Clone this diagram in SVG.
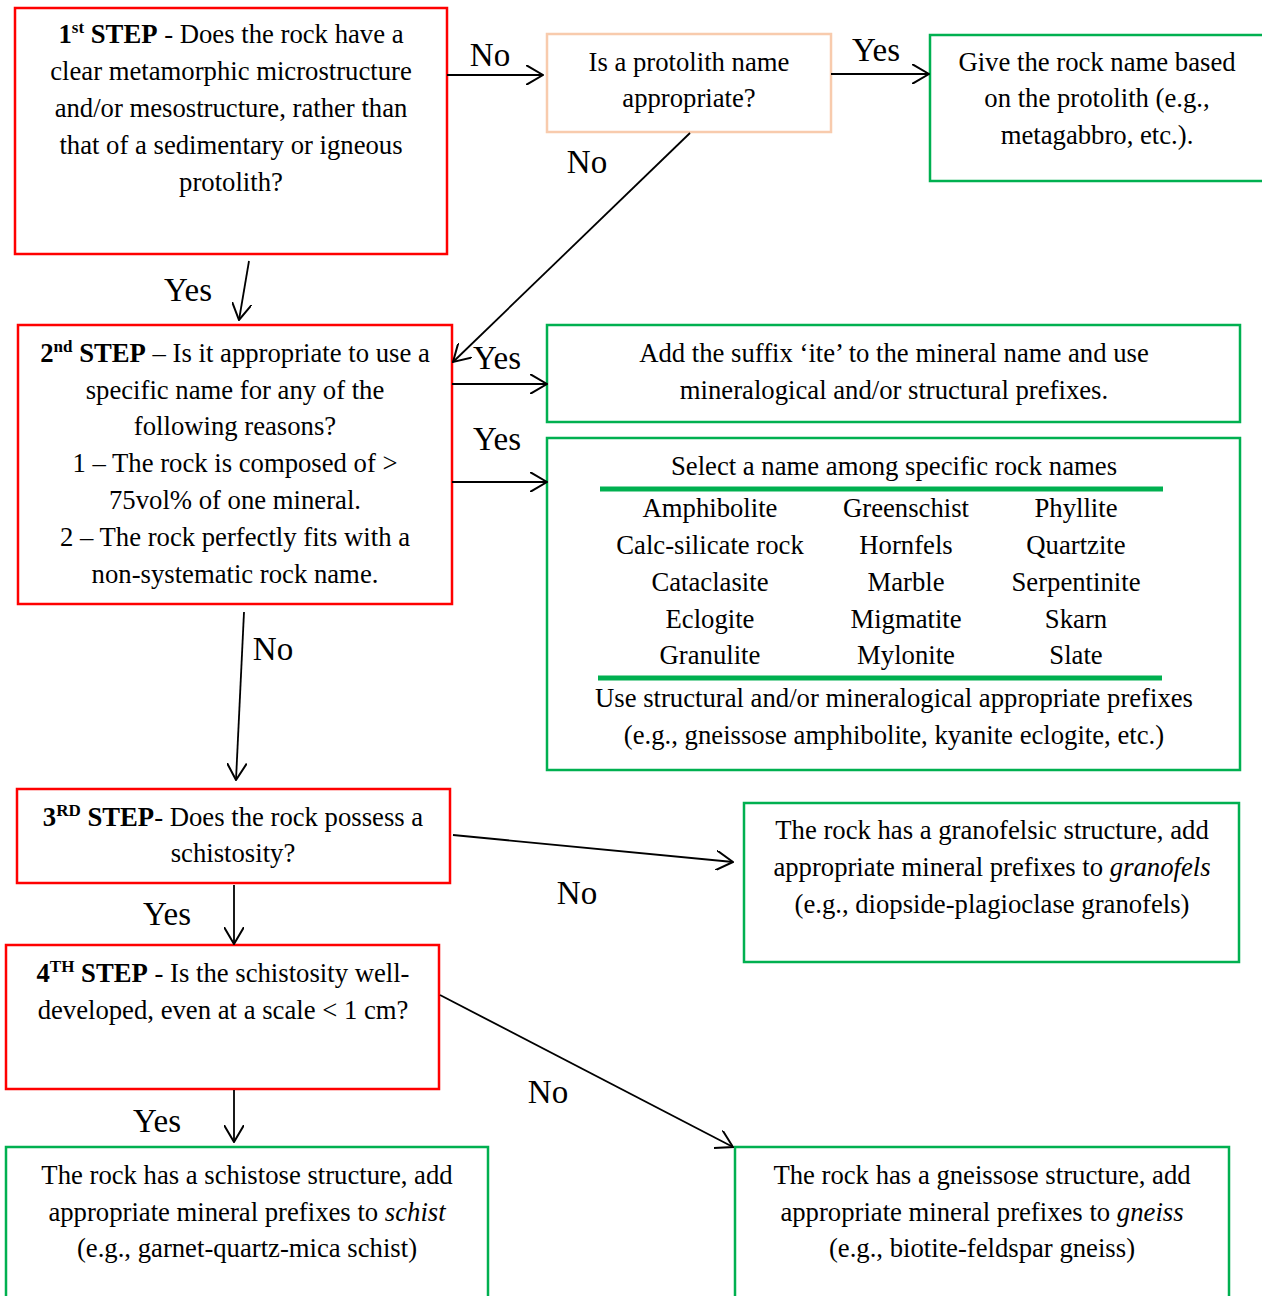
<svg xmlns="http://www.w3.org/2000/svg" width="1262" height="1296" viewBox="0 0 1262 1296">
<defs>
<marker id="ah" viewBox="0 0 18 20" refX="17" refY="10" markerWidth="18" markerHeight="20" markerUnits="userSpaceOnUse" orient="auto">
<path d="M0,0 L17,10 L0,20" fill="none" stroke="#000" stroke-width="2"/>
</marker>
</defs>
<style>
text{font-family:"Liberation Serif","Times New Roman",serif;fill:#000}
.t{font-size:26.7px;text-anchor:middle}
.l{font-size:33px;text-anchor:middle}
.b{font-weight:bold}
.i{font-style:italic}
.sup{font-size:17px;font-weight:bold}
.red{fill:#fff;stroke:#FF0000;stroke-width:2.5}
.grn{fill:#fff;stroke:#00B050;stroke-width:2.5}
.org{fill:#fff;stroke:#F8CBAD;stroke-width:2.5}
.conn line{stroke:#000;stroke-width:1.8;marker-end:url(#ah)}
</style>
<rect width="1262" height="1296" fill="#fff"/>

<g id="step1">
<rect class="red" x="15" y="8" width="432" height="246"/>
<text class="t" x="231" y="43"><tspan class="b">1</tspan><tspan class="sup" dy="-10">st</tspan><tspan class="b" dy="10"> STEP</tspan> - Does the rock have a</text>
<text class="t" x="231" y="80">clear metamorphic microstructure</text>
<text class="t" x="231" y="117">and/or mesostructure, rather than</text>
<text class="t" x="231" y="154">that of a sedimentary or igneous</text>
<text class="t" x="231" y="191">protolith?</text>
</g>

<g id="protolith">
<rect class="org" x="547" y="34" width="284" height="98"/>
<text class="t" x="689" y="71">Is a protolith name</text>
<text class="t" x="689" y="107">appropriate?</text>
</g>

<g id="protolith-name">
<rect class="grn" x="930" y="35" width="340" height="146"/>
<text class="t" x="1097" y="71">Give the rock name based</text>
<text class="t" x="1097" y="107">on the protolith (e.g.,</text>
<text class="t" x="1097" y="144">metagabbro, etc.).</text>
</g>

<g id="step2">
<rect class="red" x="18" y="325" width="434" height="279"/>
<text class="t" x="235" y="362"><tspan class="b">2</tspan><tspan class="sup" dy="-10">nd</tspan><tspan class="b" dy="10"> STEP</tspan> – Is it appropriate to use a</text>
<text class="t" x="235" y="399">specific name for any of the</text>
<text class="t" x="235" y="435">following reasons?</text>
<text class="t" x="235" y="472">1 – The rock is composed of &gt;</text>
<text class="t" x="235" y="509">75vol% of one mineral.</text>
<text class="t" x="235" y="546">2 – The rock perfectly fits with a</text>
<text class="t" x="235" y="583">non-systematic rock name.</text>
</g>

<g id="suffix">
<rect class="grn" x="547" y="325" width="693" height="97"/>
<text class="t" x="894" y="362">Add the suffix ‘ite’ to the mineral name and use</text>
<text class="t" x="894" y="399">mineralogical and/or structural prefixes.</text>
</g>

<g id="specific-names">
<rect class="grn" x="547" y="438" width="693" height="332"/>
<text class="t" x="894" y="475">Select a name among specific rock names</text>
<line x1="600" y1="489" x2="1163" y2="489" stroke="#00B050" stroke-width="5"/>
<text class="t" x="710" y="517">Amphibolite</text>
<text class="t" x="906" y="517">Greenschist</text>
<text class="t" x="1076" y="517">Phyllite</text>
<text class="t" x="710" y="554">Calc-silicate rock</text>
<text class="t" x="906" y="554">Hornfels</text>
<text class="t" x="1076" y="554">Quartzite</text>
<text class="t" x="710" y="591">Cataclasite</text>
<text class="t" x="906" y="591">Marble</text>
<text class="t" x="1076" y="591">Serpentinite</text>
<text class="t" x="710" y="628">Eclogite</text>
<text class="t" x="906" y="628">Migmatite</text>
<text class="t" x="1076" y="628">Skarn</text>
<text class="t" x="710" y="664">Granulite</text>
<text class="t" x="906" y="664">Mylonite</text>
<text class="t" x="1076" y="664">Slate</text>
<line x1="598" y1="678" x2="1162" y2="678" stroke="#00B050" stroke-width="5"/>
<text class="t" x="894" y="707">Use structural and/or mineralogical appropriate prefixes</text>
<text class="t" x="894" y="744">(e.g., gneissose amphibolite, kyanite eclogite, etc.)</text>
</g>

<g id="step3">
<rect class="red" x="17" y="789" width="433" height="94"/>
<text class="t" x="233" y="826"><tspan class="b">3</tspan><tspan class="sup" dy="-10">RD</tspan><tspan class="b" dy="10"> STEP</tspan>- Does the rock possess a</text>
<text class="t" x="233" y="862">schistosity?</text>
</g>

<g id="granofels">
<rect class="grn" x="744" y="803" width="495" height="159"/>
<text class="t" x="992" y="839">The rock has a granofelsic structure, add</text>
<text class="t" x="992" y="876">appropriate mineral prefixes to <tspan class="i">granofels</tspan></text>
<text class="t" x="992" y="913">(e.g., diopside-plagioclase granofels)</text>
</g>

<g id="step4">
<rect class="red" x="6" y="945" width="433" height="144"/>
<text class="t" x="223" y="982"><tspan class="b">4</tspan><tspan class="sup" dy="-10">TH</tspan><tspan class="b" dy="10"> STEP</tspan> - Is the schistosity well-</text>
<text class="t" x="223" y="1019">developed, even at a scale &lt; 1 cm?</text>
</g>

<g id="schist">
<rect class="grn" x="6" y="1147" width="482" height="160"/>
<text class="t" x="247" y="1184">The rock has a schistose structure, add</text>
<text class="t" x="247" y="1221">appropriate mineral prefixes to <tspan class="i">schist</tspan></text>
<text class="t" x="247" y="1257">(e.g., garnet-quartz-mica schist)</text>
</g>

<g id="gneiss">
<rect class="grn" x="735" y="1147" width="494" height="160"/>
<text class="t" x="982" y="1184">The rock has a gneissose structure, add</text>
<text class="t" x="982" y="1221">appropriate mineral prefixes to <tspan class="i">gneiss</tspan></text>
<text class="t" x="982" y="1257">(e.g., biotite-feldspar gneiss)</text>
</g>

<g id="connectors" class="conn">
<line x1="447" y1="75" x2="543" y2="75"/>
<line x1="831" y1="74" x2="929" y2="74"/>
<line x1="690" y1="133" x2="453" y2="362"/>
<line x1="249" y1="261" x2="239" y2="320"/>
<line x1="452" y1="384" x2="547" y2="384"/>
<line x1="452" y1="482" x2="547" y2="482"/>
<line x1="244" y1="612" x2="236" y2="780"/>
<line x1="453" y1="835" x2="733" y2="862"/>
<line x1="234" y1="885" x2="234" y2="944"/>
<line x1="440" y1="995" x2="733" y2="1147"/>
<line x1="234" y1="1090" x2="234" y2="1142"/>
</g>

<g id="labels">
<text class="l" x="490" y="66">No</text>
<text class="l" x="876" y="61">Yes</text>
<text class="l" x="587" y="173">No</text>
<text class="l" x="188" y="301">Yes</text>
<text class="l" x="497" y="369">Yes</text>
<text class="l" x="497" y="450">Yes</text>
<text class="l" x="273" y="660">No</text>
<text class="l" x="577" y="904">No</text>
<text class="l" x="167" y="925">Yes</text>
<text class="l" x="548" y="1103">No</text>
<text class="l" x="157" y="1132">Yes</text>
</g>
</svg>
